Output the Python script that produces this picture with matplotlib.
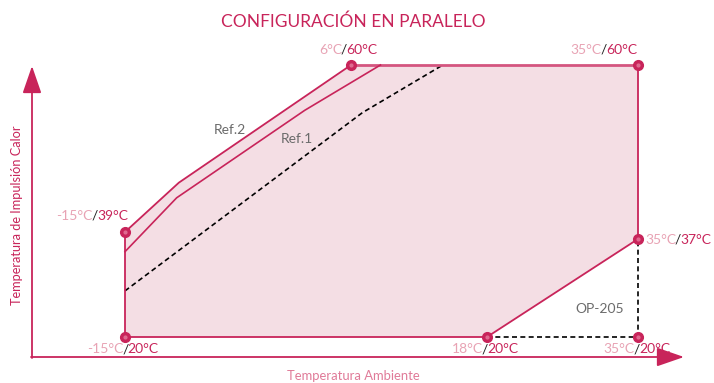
import numpy as np
import matplotlib
matplotlib.use("Agg")
import matplotlib.pyplot as plt
from matplotlib.offsetbox import TextArea, HPacker, AnnotationBbox

# operating envelope (ambient temp, supply temp) in °C
env_x = [-15, -15, -10, 6, 35, 35, 18]
env_y = [20, 39, 45.2, 60, 60, 37, 20]

ref2_x = [-15, -10, 6]
ref2_y = [39, 45.2, 60]
ref1_x = [-15, -10.2, 1.7, 8.6]
ref1_y = [34.8, 43.3, 54.3, 60]
dash_x = [-15, 7, 14.1]
dash_y = [28, 54, 60]
op_x = [18, 35, 35]
op_y = [20, 20, 37]

corner_x = [6, 35, -15, 35, -15, 18, 35]
corner_y = [60, 60, 39, 37, 20, 20, 20]
corner_amb = ["6°C", "35°C", "-15°C", "35°C", "-15°C", "18°C", "35°C"]
corner_sup = ["60°C", "60°C", "39°C", "37°C", "20°C", "20°C", "20°C"]

CRIMSON = "#c8245a"
LIGHT = "#e8a3b4"
FILL = "#f4dee4"
GREY = "#6b6b6b"

# the drawing is schematic, not linear: map temperatures to positions piecewise
xa_t = [-26.6, -15, 6, 18, 35, 43.5]
xa_p = [0, 125, 351, 487, 638, 714]
ya_t = [12, 20, 37, 39, 60, 68.2]
ya_p = [0, 46, 144, 151, 318, 383]


def fx(t):
    return np.interp(t, xa_t, xa_p)


def fx_inv(p):
    return np.interp(p, xa_p, xa_t)


def fy(t):
    return np.interp(t, ya_t, ya_p)


def fy_inv(p):
    return np.interp(p, ya_p, ya_t)


plt.rcParams["font.family"] = ["Lato", "DejaVu Sans"]

fig = plt.figure(figsize=(7.14, 3.83), dpi=100)
ax = fig.add_axes([0, 0, 1, 1])
ax.set_xscale("function", functions=(fx, fx_inv))
ax.set_yscale("function", functions=(fy, fy_inv))
ax.set_xlim(-26.6, 43.5)
ax.set_ylim(12, 68.2)
ax.axis("off")

ax.fill(env_x, env_y, color=FILL, lw=0, zorder=1)

# envelope outline
ax.plot([-15, 18], [20, 20], color=CRIMSON, lw=1.3, zorder=3)
ax.plot([-15, -15], [20, 39], color=CRIMSON, lw=1.3, zorder=3)
ax.plot(ref2_x, ref2_y, color=CRIMSON, lw=1.3, zorder=3)
ax.plot([6, 35], [60, 60], color="#d4557f", lw=2, zorder=3)
ax.plot([35, 35], [60, 37], color=CRIMSON, lw=1.3, zorder=3)
ax.plot([35, 18], [37, 20], color=CRIMSON, lw=1.3, zorder=3)
ax.plot(ref1_x, ref1_y, color=CRIMSON, lw=1.2, zorder=3)

ax.plot(dash_x, dash_y, color="black", lw=1.2, ls=(0, (3, 2)), zorder=2)
ax.plot(op_x, op_y, color="black", lw=1.2, ls=(0, (3, 2)), zorder=2)

ax.plot(corner_x, corner_y, "o", ms=7, color=CRIMSON, zorder=4)
ax.plot(corner_x, corner_y, "o", ms=2, color="#e06a90", zorder=5)

# corner labels: offset in pixels and box alignment
offsets = [(-3, 15), (-34, 15), (3, 16), (7, -1), (-2, -12), (-2, -12), (-1, -12)]
aligns = [(0.5, 0.5), (0.5, 0.5), (1, 0.5), (0, 0.5), (0.5, 0.5), (0.5, 0.5), (0.5, 0.5)]
for i in range(len(corner_x)):
    parts = [
        TextArea(corner_amb[i], textprops=dict(color=LIGHT, fontsize=10)),
        TextArea("/", textprops=dict(color="#222222", fontsize=10)),
        TextArea(corner_sup[i], textprops=dict(color=CRIMSON, fontsize=10)),
    ]
    box = HPacker(children=parts, pad=0, sep=-0.8, align="baseline")
    dx, dy = offsets[i]
    ab = AnnotationBbox(box, (corner_x[i], corner_y[i]),
                        xybox=(dx * 0.72, dy * 0.72), boxcoords="offset points",
                        box_alignment=aligns[i], frameon=False, pad=0, zorder=6)
    ax.add_artist(ab)

ax.text(fx_inv(230), fy_inv(383 - 130), "Ref.2", color=GREY, fontsize=10,
        ha="center", va="center")
ax.text(fx_inv(297), fy_inv(383 - 139), "Ref.1", color=GREY, fontsize=10,
        ha="center", va="center")
ax.text(fx_inv(600), fy_inv(383 - 309), "OP-205", color=GREY, fontsize=10,
        ha="center", va="center")

# axis arrows
arrow = dict(arrowstyle="-|>,head_length=1.3,head_width=0.45", color=CRIMSON,
             lw=1.3, mutation_scale=13, shrinkA=0, shrinkB=0)
ax.annotate("", xy=(32, 383 - 66), xytext=(32, 383 - 358),
            xycoords="figure pixels", textcoords="figure pixels", arrowprops=arrow)
ax.annotate("", xy=(684, 383 - 357), xytext=(31, 383 - 357),
            xycoords="figure pixels", textcoords="figure pixels", arrowprops=arrow)

fig.text(353 / 714, 1 - 22 / 383, "CONFIGURACIÓN EN PARALELO", color=CRIMSON,
         fontsize=12.5, ha="center", va="center")
fig.text(353 / 714, 1 - 376 / 383, "Temperatura Ambiente", color="#e07a98",
         fontsize=9.4, ha="center", va="center")
fig.text(17 / 714, 1 - 215 / 383, "Temperatura de Impulsión Calor", color=CRIMSON,
         fontsize=9.2, ha="center", va="center", rotation=90)

fig.savefig("out.png", dpi=100)
